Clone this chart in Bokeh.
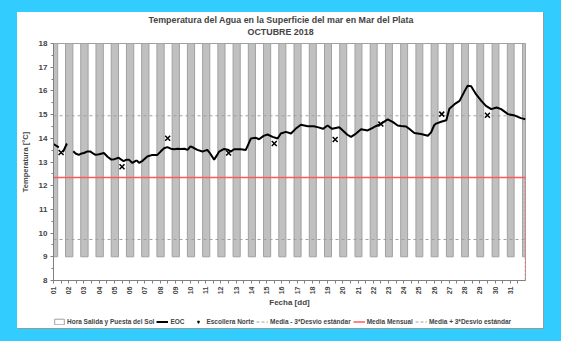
import math
from bokeh.plotting import figure
from bokeh.models import (Range1d, FixedTicker, Legend, LegendItem, Title)
from bokeh.layouts import column
from bokeh.embed import file_html
from bokeh.resources import INLINE

# ---------------- data ----------------
dias = ["01", "02", "03", "04", "05", "06", "07", "08", "09", "10", "11", "12", "13", "14", "15", "16",
        "17", "18", "19", "20", "21", "22", "23", "24", "25", "26", "27", "28", "29", "30", "31"]

# sunrise (h) for Oct 1 .. Nov 1
salida = [6.58, 6.56, 6.54, 6.52, 6.50, 6.48, 6.46, 6.44, 6.42, 6.40, 6.38, 6.36, 6.34, 6.32, 6.31, 6.29,
          6.27, 6.25, 6.24, 6.22, 6.20, 6.19, 6.17, 6.16, 6.14, 6.13, 6.11, 6.10, 6.09, 6.07, 6.06, 6.05]
# sunset (h) for Sep 30 .. Oct 31
puesta = [18.90, 18.92, 18.93, 18.95, 18.96, 18.98, 18.99, 19.01, 19.02, 19.04, 19.05, 19.07, 19.08, 19.10,
          19.11, 19.13, 19.15, 19.16, 19.18, 19.19, 19.21, 19.23, 19.24, 19.26, 19.28, 19.29, 19.31, 19.33,
          19.35, 19.36, 19.38, 19.40]

# EOC series: time in days since Oct 1 00:00, temperature in degC (None = gap)
eoc_t = [0.00, 0.35, None, 0.62, 0.88, None,
         1.30, 1.45, 1.66, 1.85, 2.00, 2.20, 2.43, 2.60, 2.76, 3.00, 3.31, 3.55, 3.80, 4.00, 4.28, 4.45,
         4.60, 4.80, 4.95, 5.18, 5.40, 5.50, 5.62, 5.85, 6.16, 6.49, 6.82, 7.05, 7.26, 7.48, 7.70, 7.92,
         8.15, 8.36, 8.60, 8.80, 9.00, 9.20, 9.45, 9.78, 10.10, 10.30, 10.55, 10.75, 10.88, 11.20, 11.45,
         11.64, 11.86, 12.30, 12.63, 12.80, 12.96, 13.30, 13.50, 13.80, 14.06, 14.39, 14.72, 14.93, 15.26,
         15.60, 15.90, 16.25, 16.70, 17.10, 17.40, 17.70, 18.00, 18.30, 18.77, 19.00, 19.30, 19.54, 19.87,
         20.20, 20.63, 20.90, 21.20, 21.50, 21.95, 22.30, 22.60, 22.83, 23.16, 23.40, 23.70, 24.14, 24.59,
         24.80, 25.00, 25.13, 25.46, 25.80, 26.00, 26.34, 26.67, 27.00, 27.20, 27.43, 27.76, 28.10, 28.40,
         28.75, 29.10, 29.40, 29.85, 30.30, 30.70, 31.00]
eoc_v = [13.76, 13.62, None, 13.42, 13.78, None,
         13.45, 13.36, 13.30, 13.36, 13.38, 13.44, 13.44, 13.36, 13.30, 13.33, 13.38, 13.22, 13.10, 13.12,
         13.18, 13.10, 13.04, 13.10, 13.10, 12.96, 13.05, 13.05, 12.96, 13.05, 13.23, 13.30, 13.30, 13.45,
         13.58, 13.63, 13.56, 13.54, 13.56, 13.55, 13.56, 13.51, 13.66, 13.60, 13.51, 13.44, 13.51, 13.35,
         13.10, 13.30, 13.44, 13.55, 13.52, 13.44, 13.54, 13.54, 13.51, 13.75, 13.99, 14.02, 13.96, 14.10,
         14.16, 14.06, 13.99, 14.20, 14.27, 14.20, 14.40, 14.57, 14.51, 14.51, 14.46, 14.40, 14.54, 14.40,
         14.47, 14.33, 14.15, 14.06, 14.20, 14.38, 14.33, 14.42, 14.52, 14.61, 14.80, 14.68, 14.54, 14.52,
         14.50, 14.38, 14.22, 14.18, 14.11, 14.25, 14.55, 14.62, 14.70, 14.76, 15.25, 15.44, 15.58, 15.99,
         16.22, 16.20, 15.85, 15.58, 15.37, 15.23, 15.30, 15.23, 15.02, 14.96, 14.85, 14.80]

# Escollera Norte (noon samples)
esc_t = [0.5, 4.5, 7.5, 11.5, 14.5, 18.5, 21.5, 25.5, 28.5]
esc_v = [13.40, 12.80, 14.00, 13.38, 13.78, 13.95, 14.60, 15.02, 14.97]

media = 12.35
media_menos = 9.73
media_mas = 14.95
noche_inf, noche_sup = 9, 18
y_min, y_max = 8, 18
x_min, x_max = 0, 31

titulo1 = "Temperatura del Agua en la Superficie del mar en Mar del Plata"
titulo2 = "OCTUBRE 2018"

FONT = "Liberation Sans"
RED = "#FF5A5A"
GRAY_DASH = "#A0A0A0"

# ---------------- main figure ----------------
p = figure(width=526, height=298, output_backend="svg", toolbar_location=None, title=None,
           x_range=Range1d(x_min, x_max), y_range=Range1d(y_min, y_max),
           min_border_left=36, min_border_right=18, min_border_top=31, min_border_bottom=25,
           background_fill_color="white", border_fill_color="white")
p.outline_line_color = "#A0A0A0"
p.xgrid.visible = False
p.ygrid.visible = False

t0 = Title(text=" ", text_font=FONT, text_font_size="4px", standoff=0)
t2 = Title(text=titulo2, align="left", offset=194, text_font=FONT,
           text_font_size="8.9px", text_font_style="bold", standoff=0)
t1 = Title(text=titulo1, align="left", offset=95, text_font=FONT,
           text_font_size="8.9px", text_font_style="bold", standoff=0)
p.add_layout(t0, "above")
p.add_layout(t2, "above")
p.add_layout(t1, "above")

# night bars (sunset -> sunrise)
lefts, rights = [], []
for k in range(len(salida)):
    lefts.append(max(x_min, (k - 1) + puesta[k] / 24.0))
    rights.append(min(x_max, k + salida[k] / 24.0))
p.quad(left=lefts, right=rights, bottom=noche_inf, top=noche_sup,
       fill_color="#C0C0C0", line_color="#A0A0A0", line_width=1)

# reference lines
xs_full = [x_min, x_max]
p.line(xs_full, [media_menos, media_menos], line_color=GRAY_DASH, line_dash="3 3", line_width=1)
p.line(xs_full, [media_mas, media_mas], line_color=GRAY_DASH, line_dash="3 3", line_width=1)
p.line(xs_full, [media, media], line_color=RED, line_width=1.5)
p.segment(x0=[x_max], y0=[media], x1=[x_max], y1=[y_min], line_color=RED, line_dash="2 2", line_width=1.5)

# EOC
ev = [float("nan") if v is None else v for v in eoc_v]
et = [float("nan") if t is None else t for t in eoc_t]
p.line(et, ev, line_color="black", line_width=2)

# Escollera Norte
p.scatter(esc_t, esc_v, marker="x", size=7, line_color="black", line_width=1.5)

# axes
p.xaxis.ticker = FixedTicker(ticks=list(range(0, 31)), minor_ticks=[k + 0.5 for k in range(31)])
p.xaxis.major_label_overrides = {i: dias[i] for i in range(31)}
p.xaxis.major_label_orientation = math.pi / 2
p.xaxis.major_label_text_font = FONT
p.xaxis.major_label_text_font_size = "7px"
p.xaxis.major_label_text_font_style = "bold"
p.xaxis.major_label_standoff = 3
p.xaxis.major_tick_in = 0
p.xaxis.major_tick_out = 3
p.xaxis.minor_tick_in = 0
p.xaxis.minor_tick_out = 3
p.xaxis.axis_line_color = "#808080"
p.xaxis.major_tick_line_color = "#808080"
p.xaxis.minor_tick_line_color = "#808080"
p.xaxis.axis_label = "Fecha [dd]"
p.xaxis.axis_label_text_font = FONT
p.xaxis.axis_label_text_font_size = "8px"
p.xaxis.axis_label_text_font_style = "bold"
p.xaxis.axis_label_standoff = 1

p.yaxis.ticker = FixedTicker(ticks=list(range(8, 19)), minor_ticks=[k + 0.5 for k in range(8, 18)])
p.yaxis.major_label_text_font = FONT
p.yaxis.major_label_text_font_size = "8px"
p.yaxis.major_label_text_font_style = "bold"
p.yaxis.major_label_standoff = 3
p.yaxis.major_tick_in = 0
p.yaxis.major_tick_out = 3
p.yaxis.minor_tick_in = 0
p.yaxis.minor_tick_out = 2
p.yaxis.axis_line_color = "#808080"
p.yaxis.major_tick_line_color = "#808080"
p.yaxis.minor_tick_line_color = "#808080"
p.yaxis.axis_label = "Temperatura [°C]"
p.yaxis.axis_label_text_font = FONT
p.yaxis.axis_label_text_font_size = "7.5px"
p.yaxis.axis_label_text_font_style = "bold"
p.yaxis.axis_label_standoff = 6

# ---------------- legend strip ----------------
lf = figure(width=526, height=18, output_backend="svg", toolbar_location=None, title=None,
            x_axis_type=None, y_axis_type=None, x_range=Range1d(0, 1), y_range=Range1d(0, 1),
            min_border=0, background_fill_color="white", border_fill_color="white")
lf.outline_line_color = None
lf.xgrid.visible = False
lf.ygrid.visible = False
# proxy renderers placed outside the visible range (only their legend swatches show)
px, py = [5, 6], [5, 6]
r_bar = lf.quad(left=[5], right=[6], bottom=[5], top=[6], fill_color="white", line_color="#A0A0A0")
r_eoc = lf.line(px, py, line_color="black", line_width=2)
r_esc = lf.scatter(px, py, marker="x", size=8, line_color="black", line_width=1.5)
r_menos = lf.line(px, py, line_color=GRAY_DASH, line_dash="3 2", line_width=1)
r_media = lf.line(px, py, line_color=RED, line_width=1.5)
r_mas = lf.line(px, py, line_color=GRAY_DASH, line_dash="3 2", line_width=1)

legend = Legend(items=[
    LegendItem(label="Hora Salida y Puesta del Sol", renderers=[r_bar]),
    LegendItem(label="EOC", renderers=[r_eoc]),
    LegendItem(label="Escollera Norte", renderers=[r_esc]),
    LegendItem(label="Media - 3*Desvio estándar", renderers=[r_menos]),
    LegendItem(label="Media Mensual", renderers=[r_media]),
    LegendItem(label="Media + 3*Desvio estándar", renderers=[r_mas]),
], orientation="horizontal", location=(0, 3),
    label_text_font=FONT, label_text_font_size="6.5px", label_text_font_style="bold",
    label_height=7, glyph_height=7, glyph_width=12, label_standoff=2, spacing=2,
    padding=1, margin=0, border_line_color=None, background_fill_alpha=0)
lf.add_layout(legend, "center")

panel = column(p, lf, spacing=0, styles={"background-color": "white",
                                         "box-shadow": "1px 1px 0px #999999"})
panel.margin = (12, 18, 13, 17)

root = column(panel, styles={"background-color": "#33CCFF"})
root.margin = 0

open("out.html", "w").write(file_html(root, INLINE))
